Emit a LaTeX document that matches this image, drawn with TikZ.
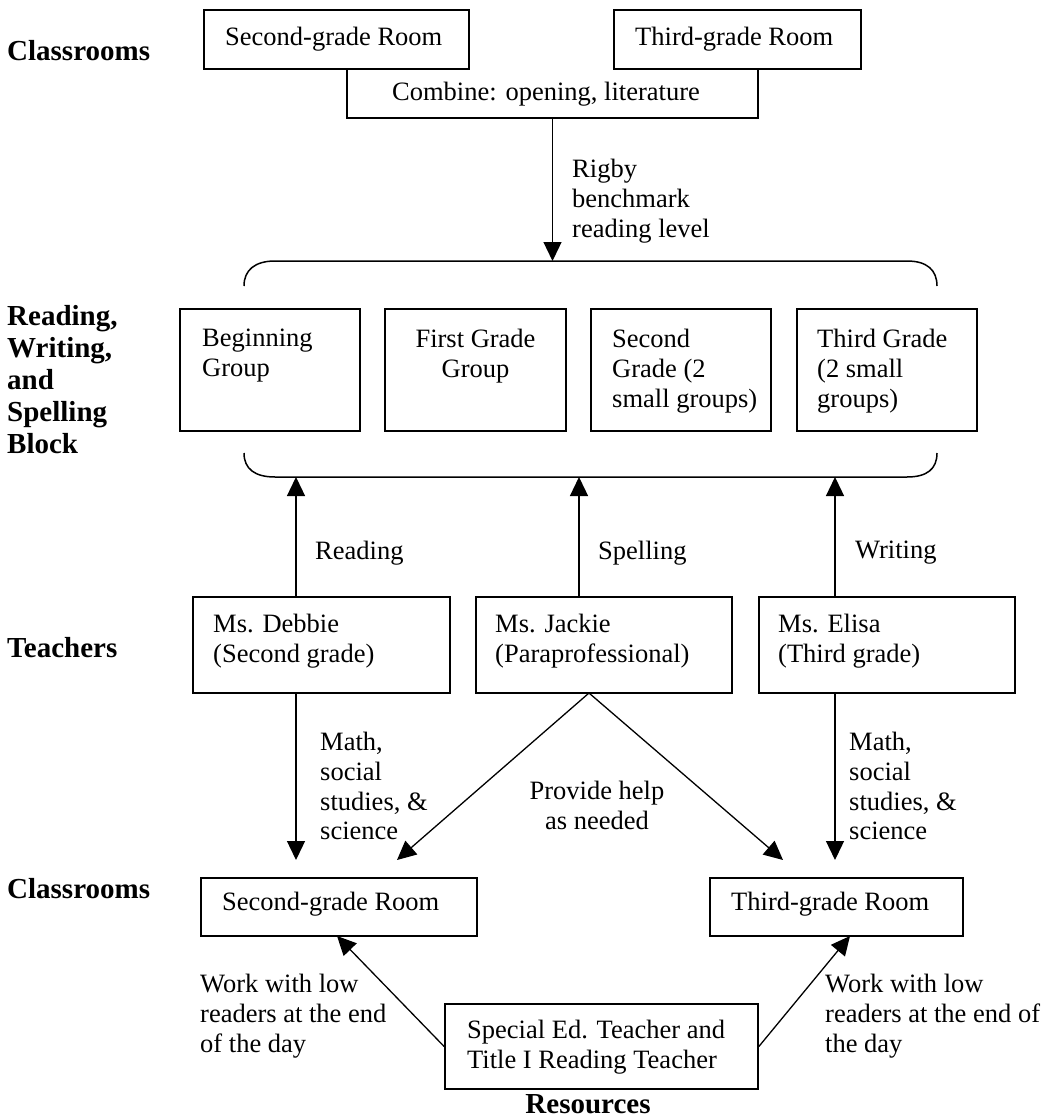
\documentclass[tikz,border=0pt]{standalone}
\usepackage{fontspec}
\setmainfont{Liberation Serif}
\usetikzlibrary{arrows.meta,calc}
\newcommand\txtfont{\fontsize{26.5}{29.8}\selectfont}
\newcommand\lblfont{\fontsize{29}{32}\selectfont\bfseries}
\begin{document}
\begin{tikzpicture}[x=1pt,y=-1pt,
  box/.style={draw, line width=1.7pt, inner sep=0pt},
  txt/.style={inner sep=0pt, align=left, anchor=north west, font=\txtfont},
  ctxt/.style={inner sep=0pt, align=center, anchor=north, font=\txtfont},
  lbl/.style={inner sep=0pt, align=left, anchor=north west, font=\lblfont},
  conn/.style={line width=1.3pt},
  arr/.style={line width=1.3pt, -{Triangle[length=19pt,width=18pt]}},
  brk/.style={line width=1.5pt}]
\useasboundingbox (0,0) rectangle (1043,1118);

% ---- row labels
\node[lbl] (lcls1) at (7,40) {Classrooms};
\node[lbl] (lrws) at (7,305) {Reading,\\Writing,\\and\\Spelling\\Block};
\node[lbl] (ltea) at (7,637) {Teachers};
\node[lbl] (lcls2) at (7,878) {Classrooms};
\node[lbl, anchor=north] (lres) at (588,1094) {Resources};

% ---- top classrooms
\node[box, minimum width=265pt, minimum height=59pt] (tsec) at (336.5,39.5) {};
\node[txt] (tsect) at (225,27) {Second-grade Room};
\node[box, minimum width=247pt, minimum height=59pt] (tthi) at (737.5,39.5) {};
\node[txt] (tthit) at (635,27) {Third-grade Room};
\coordinate (cl) at (347,69);
\coordinate (cr) at (758,69);
\coordinate (cb) at (552.5,118);
\draw[line width=1.7pt] (cl) -- (cl |- cb) -- (cr |- cb) -- (cr);
\node[txt] (combt) at (392,82) {Combine: opening, literature};

% ---- top bracket and arrow
\coordinate (brt) at (552.5,261);
\draw[brk] (244,286) .. controls (244,270) and (255,261) .. (275,261) -- (907,261)
  .. controls (927,261) and (937,270) .. (937,286);
\draw[arr] (cb) -- (brt);
\node[txt] (rigby) at (572,159) {Rigby\\benchmark\\reading level};

% ---- groups
\node[box, minimum width=180pt, minimum height=122pt] (g1) at (270,370) {};
\node[box, minimum width=181pt, minimum height=122pt] (g2) at (475.5,370) {};
\node[box, minimum width=180pt, minimum height=122pt] (g3) at (681,370) {};
\node[box, minimum width=180pt, minimum height=122pt] (g4) at (887,370) {};
\node[txt] (g1t) at (202,329) {Beginning\\Group};
\node[ctxt] (g2t) at (475.5,329) {First Grade\\Group};
\node[txt] (g3t) at (612,329) {Second\\Grade (2\\small groups)};
\node[txt] (g4t) at (817,329) {Third Grade\\(2 small\\groups)};

% ---- bottom bracket
\draw[brk] (244,453) .. controls (244,469) and (255,477) .. (275,477) -- (907,477)
  .. controls (927,477) and (937,469) .. (937,453);
\coordinate (u1) at (296,477);
\coordinate (u2) at (579,477);
\coordinate (u3) at (835,477);

% ---- teachers
\node[box, minimum width=257pt, minimum height=96pt] (deb) at (321.5,645) {};
\node[box, minimum width=256pt, minimum height=96pt] (jac) at (604,645) {};
\node[box, minimum width=256pt, minimum height=96pt] (eli) at (887,645) {};
\node[txt] (debt) at (213,614) {Ms. Debbie\\(Second grade)};
\node[txt] (jact) at (495,614) {Ms. Jackie\\(Paraprofessional)};
\node[txt] (elit) at (778,614) {Ms. Elisa\\(Third grade)};

\draw[arr] (deb.north -| u1) -- (u1);
\draw[arr] (jac.north -| u2) -- (u2);
\draw[arr] (eli.north -| u3) -- (u3);
\node[txt] (lread) at (315,541) {Reading};
\node[txt] (lspel) at (598,541) {Spelling};
\node[txt] (lwrit) at (855,541) {Writing};

% ---- bottom classrooms
\node[box, minimum width=276pt, minimum height=58pt] (bsec) at (339,907) {};
\node[txt] (bsect) at (222,892) {Second-grade Room};
\node[box, minimum width=253pt, minimum height=58pt] (bthi) at (836.5,907) {};
\node[txt] (bthit) at (731,892) {Third-grade Room};

\coordinate (d1) at (296,860);
\coordinate (d3) at (835,860);
\coordinate (dl) at (397,860);
\coordinate (dr) at (783,860);
\coordinate (js) at (589,693);
\draw[arr] (deb.south -| d1) -- (d1);
\draw[arr] (eli.south -| d3) -- (d3);
\draw[arr] (js) -- (dl);
\draw[arr] (js) -- (dr);
\node[txt] (mathl) at (320,732) {Math,\\social\\studies, \&\\science};
\node[txt] (mathr) at (849,732) {Math,\\social\\studies, \&\\science};
\node[ctxt] (help) at (597,781) {Provide help\\as needed};

% ---- resources
\node[box, minimum width=313pt, minimum height=85pt] (res) at (601.5,1046.5) {};
\node[txt] (rest) at (467,1020) {Special Ed. Teacher and\\Title I Reading Teacher};
\coordinate (rl) at (337,936);
\coordinate (rr) at (850,936);
\draw[arr] (res.west) -- (rl);
\draw[arr] (res.east) -- (rr);
\node[txt] (workl) at (200,974) {Work with low\\readers at the end\\of the day};
\node[txt] (workr) at (825,974) {Work with low\\readers at the end of\\the day};
\end{tikzpicture}
\end{document}
